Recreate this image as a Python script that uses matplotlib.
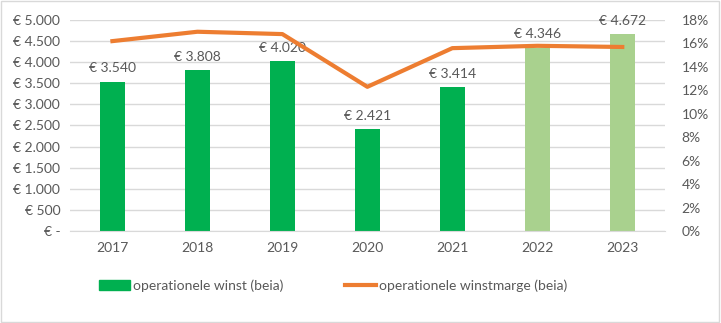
import matplotlib.pyplot as plt
import matplotlib.ticker as mticker
from matplotlib.patches import Patch
from matplotlib.lines import Line2D

years = ['2017', '2018', '2019', '2020', '2021', '2022', '2023']
winst = [3540, 3808, 4020, 2421, 3414, 4346, 4672]
marge = [16.2, 17.0, 16.8, 12.3, 15.6, 15.8, 15.7]
bar_colors = ['#00B050'] * 5 + ['#A9D18E'] * 2

plt.rcParams['font.family'] = ['Lato', 'DejaVu Sans']
txt = '#595959'

fig = plt.figure(figsize=(7.21, 3.23), dpi=100)
ax = fig.add_axes([0.097, 0.285, 0.825, 0.653])
x = range(len(years))
bars = ax.bar(x, winst, width=0.3, color=bar_colors, zorder=2)
for i, v in enumerate(winst):
    lab = '€ {:,}'.format(v).replace(',', '.')
    ax.text(i, v + 170, lab, ha='center', va='bottom', fontsize=10, color=txt, zorder=4)

ax.set_ylim(0, 5000)
ax.set_xlim(-0.5, len(years) - 0.5)
ax.set_yticks(range(0, 5001, 500))
ax.yaxis.set_major_formatter(mticker.FuncFormatter(
    lambda v, p: '€ -' if v == 0 else '€ {:,}'.format(int(v)).replace(',', '.')))
ax.set_xticks(list(x))
ax.set_xticklabels(years)
ax.grid(axis='y', color='#D9D9D9', linewidth=1, zorder=0)
for s in ['top', 'right', 'left']:
    ax.spines[s].set_visible(False)
ax.spines['bottom'].set_color('#D9D9D9')
ax.tick_params(length=0, colors=txt, labelsize=10)
ax.tick_params(axis='x', pad=8)
ax.tick_params(axis='y', pad=7)

ax2 = ax.twinx()
ax2.plot(list(x), marge, color='#ED7D31', linewidth=3, zorder=3)
ax2.set_ylim(0, 18)
ax2.set_yticks(range(0, 19, 2))
ax2.yaxis.set_major_formatter(mticker.FuncFormatter(lambda v, p: '{:d}%'.format(int(v))))
for s in ['top', 'right', 'left', 'bottom']:
    ax2.spines[s].set_visible(False)
ax2.tick_params(length=0, colors=txt, labelsize=10, pad=12)

handles = [Patch(color='#00B050', label='operationele winst (beia)'),
           Line2D([0], [0], color='#ED7D31', linewidth=3, label='operationele winstmarge (beia)')]
fig.legend(handles=handles, loc='center', bbox_to_anchor=(0.462, 0.115), ncol=2, frameon=False,
           fontsize=10, labelcolor=txt, columnspacing=4.5, handlelength=2.2, handletextpad=0.2)

fig.patches.append(plt.Rectangle((0.002, 0.004), 0.995, 0.992, transform=fig.transFigure,
                                 fill=False, edgecolor='#D9D9D9', linewidth=1))
fig.savefig('out.png', dpi=100)
